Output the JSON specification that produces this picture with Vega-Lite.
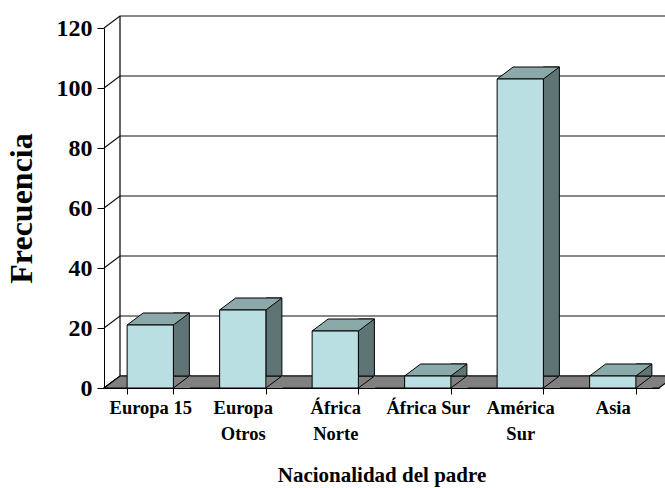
{
  "$schema": "https://vega.github.io/schema/vega-lite/v6.json",
  "width": 555,
  "height": 360,
  "autosize": {"type": "none"},
  "padding": {"left": 104, "top": 28, "right": 6, "bottom": 100},
  "background": "white",
  "view": {"stroke": null},
  "config": {
    "font": "Liberation Serif",
    "axisY": {"domainColor": "black", "tickColor": "black", "tickSize": 7, "tickCount": 6, "grid": false, "labelFontSize": 24, "labelFontWeight": "bold", "labelColor": "black", "labelPadding": 5, "titleFontSize": 32, "titleFontWeight": "bold", "titleColor": "black", "titlePadding": 18, "zindex": 1},
    "axisX": {"domainColor": "black", "tickColor": "black", "tickSize": 6, "grid": false, "labelAngle": 0, "labelFontSize": 18.5, "labelFontWeight": "bold", "labelColor": "black", "labelPadding": 4, "labelLineHeight": 26, "labelOverlap": false, "labelBound": false, "titleFontSize": 21, "titleFontWeight": "bold", "titleColor": "black", "titlePadding": 22, "zindex": 1}
  },
  "datasets": {
    "bars": [
      {"Nacionalidad del padre": "Europa 15", "Frecuencia": 21},
      {"Nacionalidad del padre": "Europa Otros", "Frecuencia": 26},
      {"Nacionalidad del padre": "África Norte", "Frecuencia": 19},
      {"Nacionalidad del padre": "África Sur", "Frecuencia": 4},
      {"Nacionalidad del padre": "América Sur", "Frecuencia": 103},
      {"Nacionalidad del padre": "Asia", "Frecuencia": 4}
    ],
    "ticks": [
      {"Frecuencia": 0}, {"Frecuencia": 20}, {"Frecuencia": 40}, {"Frecuencia": 60},
      {"Frecuencia": 80}, {"Frecuencia": 100}, {"Frecuencia": 120}
    ]
  },
  "layer": [
    {
      "data": {"name": "ticks"},
      "mark": {"type": "point", "shape": "M-0.925,0L-0.871667,-0.04L1.05,-0.04", "size": 360000, "filled": false, "fill": "transparent", "stroke": "#111111", "strokeWidth": 1.2, "opacity": 1},
      "encoding": {
        "y": {"field": "Frecuencia", "type": "quantitative", "scale": {"domain": [0, 120], "nice": false}}
      }
    },
    {
      "data": {"name": "ticks"},
      "transform": [{"filter": "datum.Frecuencia == 0"}],
      "mark": {"type": "point", "shape": "M-0.925,0L0.925,0L0.978333,-0.04L-0.871667,-0.04ZM-0.871667,-0.04L-0.871667,-1.24", "size": 360000, "filled": true, "fill": "#808080", "stroke": "black", "strokeWidth": 1.2, "opacity": 1},
      "encoding": {
        "y": {"field": "Frecuencia", "type": "quantitative", "scale": {"domain": [0, 120], "nice": false}}
      }
    },
    {
      "data": {"name": "bars"},
      "mark": {"type": "bar", "width": 16, "xOffset": 31.125, "yOffset": -12, "fill": "#5F7474", "stroke": "black", "strokeWidth": 1},
      "encoding": {
        "x": {"field": "Nacionalidad del padre", "type": "nominal", "sort": null, "scale": {"paddingInner": 0.5, "paddingOuter": 0.25}},
        "y": {"field": "Frecuencia", "type": "quantitative", "scale": {"domain": [0, 120], "nice": false}}
      }
    },
    {
      "data": {"name": "bars"},
      "mark": {"type": "point", "shape": "M0.578125,0L0.978125,-0.3L0.995,-0.3L0.995,0Z", "size": 6400, "filled": true, "fill": "#808080", "strokeWidth": 0, "opacity": 1},
      "encoding": {
        "x": {"field": "Nacionalidad del padre", "type": "nominal", "sort": null, "scale": {"paddingInner": 0.5, "paddingOuter": 0.25}},
        "y": {"datum": 0, "type": "quantitative", "scale": {"domain": [0, 120], "nice": false}}
      }
    },
    {
      "data": {"name": "bars"},
      "mark": {"type": "point", "shape": "M0.578125,0L0.978125,-0.3", "size": 6400, "filled": false, "fill": "transparent", "stroke": "black", "strokeWidth": 1, "opacity": 1},
      "encoding": {
        "x": {"field": "Nacionalidad del padre", "type": "nominal", "sort": null, "scale": {"paddingInner": 0.5, "paddingOuter": 0.25}},
        "y": {"datum": 0, "type": "quantitative", "scale": {"domain": [0, 120], "nice": false}}
      }
    },
    {
      "data": {"name": "bars"},
      "mark": {"type": "point", "shape": "M-0.578125,0L0.578125,0L0.978125,-0.3L-0.178125,-0.3Z", "size": 6400, "filled": true, "fill": "#8CA9AA", "stroke": "black", "strokeWidth": 1, "opacity": 1},
      "encoding": {
        "x": {"field": "Nacionalidad del padre", "type": "nominal", "sort": null, "scale": {"paddingInner": 0.5, "paddingOuter": 0.25}},
        "y": {"field": "Frecuencia", "type": "quantitative", "scale": {"domain": [0, 120], "nice": false}}
      }
    },
    {
      "data": {"name": "bars"},
      "mark": {"type": "bar", "fill": "#BADFE2", "stroke": "black", "strokeWidth": 1},
      "encoding": {
        "x": {"field": "Nacionalidad del padre", "type": "nominal", "sort": null, "scale": {"paddingInner": 0.5, "paddingOuter": 0.25}, "axis": {"tickBand": "extent", "labelExpr": "length(datum.label) > 10 ? split(datum.label, ' ') : datum.label"}},
        "y": {"field": "Frecuencia", "type": "quantitative", "scale": {"domain": [0, 120], "nice": false}}
      }
    }
  ]
}
